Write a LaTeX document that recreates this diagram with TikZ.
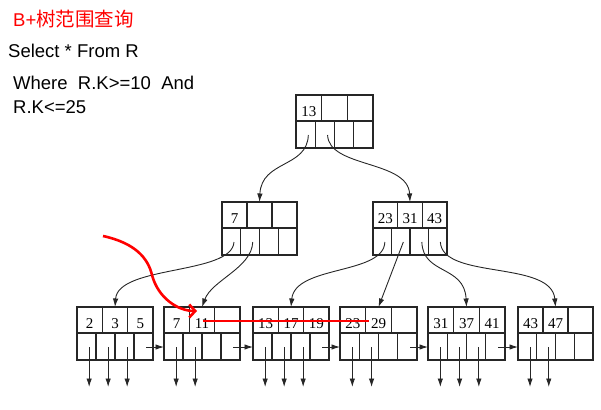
\documentclass[tikz,border=0pt]{standalone}
\usepackage{fontspec}
\setmainfont{Liberation Sans}
\newfontfamily\cjk{Noto Sans CJK SC}
\newfontfamily\numfont{Liberation Serif}
\usetikzlibrary{arrows.meta}

\tikzset{
  box/.style={line width=1.1pt, draw=black!85},
  keytxt/.style={font=\numfont\fontsize{15}{15}\selectfont, anchor=base, inner sep=0pt},
  ptr/.style={line width=0.9pt, draw=black!85, -{Latex[length=8.5pt,width=5.5pt]}},
  redline/.style={draw=red, line width=2.6pt},
  txt/.style={anchor=base west, inner sep=0pt, font=\fontsize{18.5}{20}\selectfont},
}

% #1 name, #2 x, #3 y, #4 width, #5-#7 keys
\newcommand\bpnode[7]{%
  \begin{scope}[shift={(#2,#3)}]
    \draw[box] (0,0) rectangle (#4,53);
    \draw[box] (0,26) -- (#4,26);
    \draw[box] ({#4/3},0) -- ({#4/3},26) ({2*#4/3},0) -- ({2*#4/3},26);
    \draw[box] ({#4/4},26) -- ({#4/4},53) ({#4/2},26) -- ({#4/2},53) ({3*#4/4},26) -- ({3*#4/4},53);
    \node[keytxt] (#1-k1) at ({#4/6},21) {#5};
    \node[keytxt] (#1-k2) at ({#4/2},21) {#6};
    \node[keytxt] (#1-k3) at ({5*#4/6},21) {#7};
    \coordinate (#1-top) at ({#4/2},0);
    \coordinate (#1-in) at (0,40);
    \coordinate (#1-p1) at ({0.16*#4},40);
    \coordinate (#1-p2) at ({0.41*#4},40);
    \coordinate (#1-p3) at ({0.66*#4},40);
    \coordinate (#1-p4) at ({0.91*#4},40);
    \coordinate (#1-d1) at ({0.16*#4},80);
    \coordinate (#1-d2) at ({0.41*#4},80);
    \coordinate (#1-d3) at ({0.66*#4},80);
  \end{scope}}

\begin{document}
\begin{tikzpicture}[x=1pt,y=-1pt]
\useasboundingbox (0,0) rectangle (601,409);

% texts
\node[txt, text=red] (title) at (13,27) {B+{\cjk\fontsize{19.5}{20}\selectfont 树范围查询}};
\node[txt] (l1) at (8,58) {Select * From R};
\node[txt] (l2) at (13,89) {Where\ \ R.K>=10\ \ And};
\node[txt] (l3) at (13,113) {R.K<=25};

% tree nodes
\bpnode{root}{296}{95}{77}{13}{}{}
\bpnode{na}{222}{202}{75}{7}{}{}
\bpnode{nb}{373}{202}{74}{23}{31}{43}
\bpnode{la}{77}{307}{76}{2}{3}{5}
\bpnode{lb}{164}{307}{76}{7}{11}{}
\bpnode{lc}{253}{307}{76}{13}{17}{19}
\bpnode{ld}{340}{307}{77}{23}{29}{}
\bpnode{le}{428}{307}{77}{31}{37}{41}
\bpnode{lf}{518}{307}{75}{43}{47}{}

% internal pointers
\draw[ptr] (root-p1) .. controls +(-1,33) and +(2,-42) .. (na-top);
\draw[ptr] (root-p2) .. controls +(1,33) and +(-2,-42) .. (nb-top);
\draw[ptr] (na-p1) .. controls +(-2,33) and +(3,-42) .. (la-top);
\draw[ptr] (na-p2) .. controls +(-1,26) and +(10,-27) .. (lb-top);
\draw[ptr] (nb-p1) .. controls +(-1,33) and +(4,-42) .. (lc-top);
\draw[ptr] (nb-p2) -- (ld-top);
\draw[ptr] (nb-p3) .. controls +(1,33) and +(-2,-42) .. (le-top);
\draw[ptr] (nb-p4) .. controls +(2,38) and +(-4,-47) .. (lf-top);

% leaf pointers
\foreach \l/\n in {la/3,lb/2,lc/3,ld/2,le/3,lf/2}{
  \foreach \k in {1,...,\n}{
    \draw[ptr] (\l-p\k) -- (\l-d\k);
  }
}
\foreach \a/\b in {la/lb,lb/lc,lc/ld,ld/le,le/lf}{
  \draw[ptr] (\a-p4) -- (\b-in);
}

% red search path
\coordinate (rs) at (103,236);
\coordinate (rm) at (152,275);
\coordinate (re) at (197,311);
\coordinate (hs) at (203,321);
\coordinate (he) at (369,321);
\draw[redline, -{Straight Barb[length=6pt,width=13pt,line width=2.6pt]}]
  (rs) .. controls (135,243) and (148,258) .. (rm)
       .. controls (158,298) and (178,311) .. (re);
\draw[redline] (hs) -- (he);
\end{tikzpicture}
\end{document}
